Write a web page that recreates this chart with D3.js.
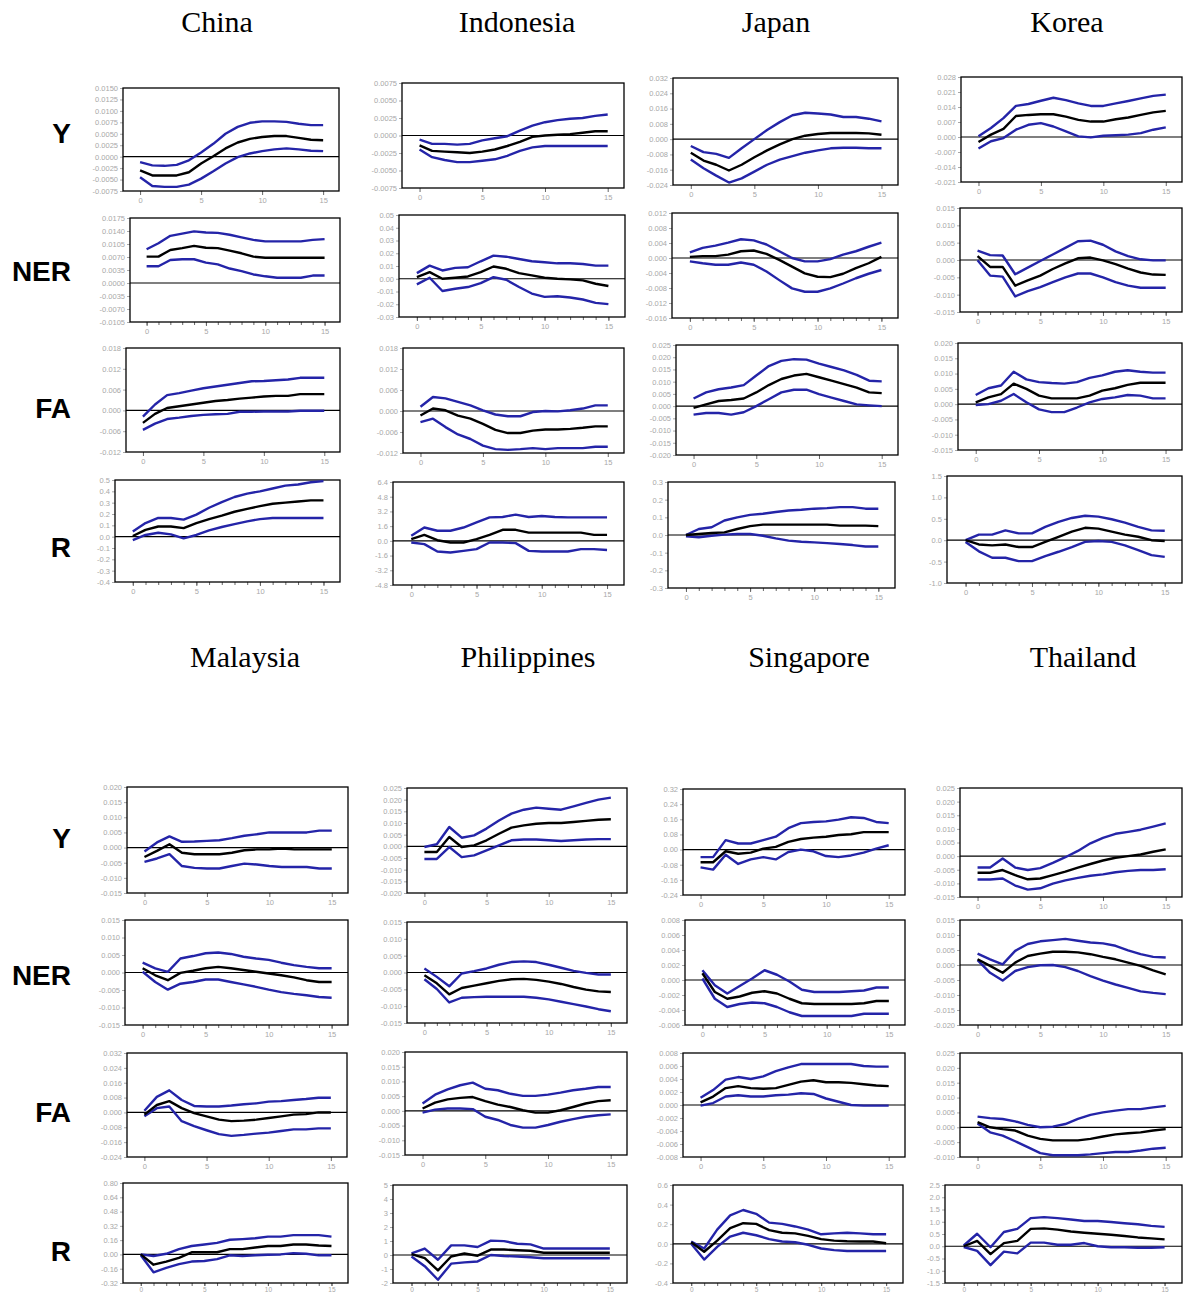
<!DOCTYPE html>
<html><head><meta charset="utf-8">
<script src="https://cdn.jsdelivr.net/npm/d3@7/dist/d3.min.js"></script>
<style>body{margin:0;background:#fff}svg{display:block}</style>
</head><body><svg id="c" width="1184" height="1297"></svg>
<script>
// ---------- DATA ----------
const countries = ["China","Indonesia","Japan","Korea","Malaysia","Philippines","Singapore","Thailand"];
const variables = ["Y","NER","FA","R"];
const horizons = [0,1,2,3,4,5,6,7,8,9,10,11,12,13,14,15];
const xTickValues = [0,5,10,15];
const xTickLabels = ["0","5","10","15"];

const China = {
  Y:{lo:[-0.0045,-0.0064,-0.0066,-0.0066,-0.0061,-0.0048,-0.0032,-0.0015,-0.0001,0.0007,0.0012,0.0016,0.0018,0.0016,0.0013,0.0012],
     mid:[-0.0030,-0.0041,-0.0041,-0.0041,-0.0034,-0.0015,0.0001,0.0018,0.0031,0.0039,0.0043,0.0045,0.0045,0.0041,0.0037,0.0036],
     hi:[-0.0012,-0.0019,-0.0020,-0.0018,-0.0008,0.0009,0.0028,0.0050,0.0065,0.0074,0.0077,0.0077,0.0076,0.0072,0.0069,0.0069]},
  NER:{lo:[0.0045,0.0045,0.0062,0.0064,0.0064,0.0055,0.0050,0.0039,0.0032,0.0023,0.0018,0.0014,0.0014,0.0014,0.0020,0.0020],
     mid:[0.0071,0.0071,0.0089,0.0094,0.0100,0.0095,0.0094,0.0087,0.0080,0.0071,0.0068,0.0068,0.0068,0.0068,0.0068,0.0068],
     hi:[0.0091,0.0107,0.0127,0.0133,0.0139,0.0136,0.0135,0.0130,0.0123,0.0116,0.0112,0.0112,0.0112,0.0112,0.0116,0.0118]},
  FA:{lo:[-0.0056,-0.0038,-0.0025,-0.0021,-0.0016,-0.0013,-0.0011,-0.0010,-0.0004,-0.0004,-0.0003,-0.0003,-0.0003,-0.0001,-0.0001,-0.0001],
     mid:[-0.0036,-0.0010,0.0007,0.0012,0.0017,0.0022,0.0027,0.0030,0.0034,0.0037,0.0040,0.0042,0.0042,0.0047,0.0047,0.0047],
     hi:[-0.0018,0.0017,0.0044,0.0050,0.0057,0.0064,0.0069,0.0074,0.0079,0.0084,0.0085,0.0087,0.0089,0.0094,0.0094,0.0094]},
  R:{lo:[-0.03,0.015,0.035,0.02,-0.015,0.015,0.055,0.085,0.11,0.135,0.155,0.165,0.165,0.165,0.165,0.165],
     mid:[0.006,0.06,0.09,0.09,0.075,0.12,0.155,0.185,0.22,0.245,0.27,0.29,0.30,0.31,0.32,0.32],
     hi:[0.045,0.12,0.165,0.165,0.15,0.195,0.255,0.305,0.35,0.38,0.40,0.425,0.45,0.46,0.48,0.49]}
};
const Indonesia = {
  Y:{lo:[-0.0020,-0.0031,-0.0035,-0.0038,-0.0038,-0.0036,-0.0034,-0.0029,-0.0022,-0.0017,-0.0015,-0.0015,-0.0015,-0.0015,-0.0015,-0.0015],
     mid:[-0.0014,-0.0022,-0.0023,-0.0024,-0.0025,-0.0023,-0.0020,-0.0015,-0.0009,-0.0002,0.0000,0.0001,0.0002,0.0004,0.0006,0.0006],
     hi:[-0.0006,-0.0012,-0.0012,-0.0013,-0.0012,-0.0007,-0.0004,-0.0001,0.0007,0.0014,0.0019,0.0022,0.0024,0.0025,0.0028,0.0030]},
  NER:{lo:[-0.0044,0.0008,-0.0096,-0.0078,-0.0065,-0.0034,0.0013,-0.0008,-0.0065,-0.0116,-0.0142,-0.0137,-0.0147,-0.0163,-0.0189,-0.0199],
     mid:[0.0013,0.0052,0.0000,0.0008,0.0018,0.0052,0.0096,0.0078,0.0044,0.0026,0.0008,0.0000,-0.0005,-0.0013,-0.0039,-0.0057],
     hi:[0.0044,0.0103,0.0065,0.0085,0.0090,0.0137,0.0181,0.0173,0.0155,0.0137,0.0129,0.0121,0.0121,0.0116,0.0103,0.0103]},
  FA:{lo:[-0.0032,-0.0022,-0.0046,-0.0067,-0.0080,-0.0099,-0.0109,-0.0111,-0.0109,-0.0106,-0.0109,-0.0106,-0.0106,-0.0106,-0.0102,-0.0102],
     mid:[-0.0013,0.0007,0.0002,-0.0013,-0.0022,-0.0037,-0.0054,-0.0063,-0.0063,-0.0056,-0.0053,-0.0053,-0.0051,-0.0048,-0.0044,-0.0044],
     hi:[0.0012,0.0040,0.0036,0.0026,0.0016,0.0002,-0.0010,-0.0015,-0.0015,-0.0003,0.0000,-0.0001,0.0002,0.0007,0.0016,0.0016]},
  R:{lo:[-0.18,-0.36,-1.16,-1.27,-1.09,-0.90,-0.18,-0.18,-0.25,-1.09,-1.16,-1.16,-1.16,-0.90,-0.90,-1.00],
     mid:[0.18,0.65,0.07,-0.18,-0.18,0.18,0.65,1.20,1.20,0.90,0.90,0.90,0.90,0.90,0.65,0.65],
     hi:[0.55,1.45,1.10,1.10,1.45,2.00,2.55,2.60,2.85,2.60,2.70,2.60,2.55,2.55,2.55,2.55]}
};
const Japan = {
  Y:{lo:[-0.0107,-0.0152,-0.0191,-0.0227,-0.0205,-0.0170,-0.0134,-0.0107,-0.0089,-0.0071,-0.0059,-0.0048,-0.0045,-0.0045,-0.0048,-0.0048],
     mid:[-0.0071,-0.0112,-0.0134,-0.0164,-0.0134,-0.0095,-0.0059,-0.0027,0.0000,0.0018,0.0027,0.0032,0.0032,0.0032,0.0030,0.0023],
     hi:[-0.0036,-0.0068,-0.0077,-0.0098,-0.0048,0.0000,0.0048,0.0089,0.0125,0.0138,0.0134,0.0129,0.0116,0.0116,0.0107,0.0093]},
  NER:{lo:[-0.0009,-0.0014,-0.0018,-0.0018,-0.0012,-0.0018,-0.0036,-0.0059,-0.0081,-0.0090,-0.0090,-0.0081,-0.0068,-0.0054,-0.0042,-0.0032],
     mid:[0.0003,0.0005,0.0005,0.0009,0.0018,0.0020,0.0011,-0.0005,-0.0023,-0.0041,-0.0050,-0.0051,-0.0042,-0.0027,-0.0014,0.0003],
     hi:[0.0015,0.0027,0.0033,0.0041,0.0050,0.0047,0.0036,0.0018,0.0000,-0.0009,-0.0009,-0.0003,0.0009,0.0018,0.0030,0.0041]},
  FA:{lo:[-0.0035,-0.0028,-0.0028,-0.0035,-0.0025,0.0000,0.0028,0.0056,0.0067,0.0067,0.0049,0.0035,0.0021,0.0007,0.0003,0.0000],
     mid:[-0.0007,0.0007,0.0021,0.0025,0.0031,0.0056,0.0086,0.0111,0.0125,0.0132,0.0118,0.0104,0.0090,0.0076,0.0056,0.0053],
     hi:[0.0031,0.0056,0.0069,0.0076,0.0086,0.0125,0.0164,0.0185,0.0192,0.0190,0.0174,0.0160,0.0146,0.0128,0.0104,0.0101]},
  R:{lo:[-0.008,-0.013,-0.004,0.002,0.006,0.006,-0.004,-0.019,-0.032,-0.038,-0.042,-0.046,-0.051,-0.057,-0.065,-0.065],
     mid:[0.000,0.006,0.011,0.015,0.034,0.050,0.059,0.059,0.059,0.059,0.059,0.059,0.053,0.053,0.053,0.050],
     hi:[0.000,0.034,0.044,0.082,0.100,0.114,0.120,0.130,0.139,0.143,0.149,0.152,0.158,0.158,0.149,0.149]}
};
const Korea = {
  Y:{lo:[-0.0054,-0.0020,-0.0005,0.0034,0.0057,0.0065,0.0049,0.0026,0.0003,-0.0002,0.0006,0.0008,0.0011,0.0018,0.0034,0.0045],
     mid:[-0.0023,0.0011,0.0038,0.0098,0.0103,0.0106,0.0106,0.0095,0.0080,0.0072,0.0072,0.0083,0.0091,0.0103,0.0115,0.0122],
     hi:[0.0003,0.0042,0.0088,0.0145,0.0154,0.0169,0.0183,0.0172,0.0157,0.0145,0.0145,0.0157,0.0168,0.0180,0.0192,0.0198]},
  NER:{lo:[-0.0001,-0.0045,-0.0048,-0.0105,-0.0090,-0.0078,-0.0064,-0.0050,-0.0039,-0.0039,-0.0050,-0.0064,-0.0074,-0.0080,-0.0080,-0.0080],
     mid:[0.0011,-0.0020,-0.0020,-0.0074,-0.0059,-0.0045,-0.0026,-0.0010,0.0005,0.0007,-0.0001,-0.0012,-0.0025,-0.0036,-0.0042,-0.0043],
     hi:[0.0027,0.0014,0.0013,-0.0041,-0.0022,-0.0003,0.0016,0.0035,0.0054,0.0056,0.0044,0.0025,0.0011,0.0002,-0.0001,-0.0001]},
  FA:{lo:[-0.0003,0.0000,0.0011,0.0033,0.0006,-0.0017,-0.0026,-0.0026,-0.0011,0.0006,0.0017,0.0022,0.0030,0.0028,0.0019,0.0019],
     mid:[0.0006,0.0022,0.0033,0.0067,0.0050,0.0028,0.0019,0.0019,0.0019,0.0028,0.0044,0.0052,0.0063,0.0070,0.0070,0.0070],
     hi:[0.0030,0.0052,0.0061,0.0106,0.0081,0.0072,0.0069,0.0067,0.0072,0.0086,0.0094,0.0106,0.0111,0.0106,0.0103,0.0103]},
  R:{lo:[-0.04,-0.26,-0.41,-0.41,-0.49,-0.49,-0.37,-0.27,-0.16,-0.04,-0.02,-0.04,-0.12,-0.23,-0.35,-0.39],
     mid:[0.00,-0.10,-0.12,-0.10,-0.16,-0.16,-0.04,0.08,0.20,0.29,0.27,0.20,0.13,0.08,0.00,-0.02],
     hi:[0.00,0.13,0.13,0.23,0.16,0.16,0.31,0.43,0.52,0.57,0.55,0.49,0.41,0.31,0.23,0.22]}
};
const Malaysia = {
  Y:{lo:[-0.0047,-0.0036,-0.0022,-0.0061,-0.0067,-0.0069,-0.0069,-0.0061,-0.0053,-0.0056,-0.0061,-0.0064,-0.0064,-0.0064,-0.0069,-0.0069],
     mid:[-0.0031,-0.0011,0.0011,-0.0017,-0.0022,-0.0022,-0.0022,-0.0017,-0.0009,-0.0006,-0.0006,-0.0003,-0.0006,-0.0006,-0.0006,-0.0006],
     hi:[-0.0013,0.0017,0.0037,0.0019,0.0020,0.0022,0.0024,0.0031,0.0039,0.0044,0.0050,0.0050,0.0050,0.0050,0.0056,0.0056]},
  NER:{lo:[0.0002,-0.0027,-0.0049,-0.0032,-0.0027,-0.0020,-0.0020,-0.0027,-0.0034,-0.0041,-0.0049,-0.0056,-0.0061,-0.0065,-0.0070,-0.0072],
     mid:[0.0012,-0.0008,-0.0022,-0.0001,0.0005,0.0012,0.0016,0.0012,0.0007,0.0002,-0.0003,-0.0008,-0.0014,-0.0022,-0.0027,-0.0027],
     hi:[0.0028,0.0012,0.0002,0.0040,0.0047,0.0055,0.0057,0.0053,0.0045,0.0040,0.0036,0.0028,0.0021,0.0016,0.0012,0.0012]},
  FA:{lo:[-0.0021,0.0023,0.0032,-0.0047,-0.0074,-0.0096,-0.0117,-0.0126,-0.0121,-0.0114,-0.0109,-0.0100,-0.0091,-0.0091,-0.0086,-0.0086],
     mid:[-0.0012,0.0040,0.0061,0.0023,-0.0004,-0.0021,-0.0039,-0.0047,-0.0044,-0.0039,-0.0030,-0.0021,-0.0012,-0.0009,0.0000,0.0000],
     hi:[0.0009,0.0084,0.0119,0.0067,0.0035,0.0032,0.0032,0.0037,0.0044,0.0049,0.0058,0.0061,0.0067,0.0072,0.0079,0.0079]},
  R:{lo:[-0.010,-0.200,-0.150,-0.108,-0.080,-0.073,-0.052,-0.010,-0.017,-0.010,-0.003,0.000,0.014,0.007,-0.010,-0.010],
     mid:[0.000,-0.115,-0.080,-0.038,0.024,0.024,0.024,0.059,0.059,0.077,0.094,0.094,0.111,0.111,0.100,0.094],
     hi:[0.000,-0.017,0.007,0.059,0.094,0.111,0.129,0.164,0.171,0.181,0.199,0.199,0.216,0.216,0.216,0.199]}
};
const Philippines = {
  Y:{lo:[-0.0054,-0.0054,-0.0003,-0.0046,-0.0039,-0.0017,0.0004,0.0026,0.0029,0.0029,0.0026,0.0023,0.0026,0.0029,0.0031,0.0031],
     mid:[-0.0024,-0.0024,0.0040,-0.0003,0.0004,0.0026,0.0054,0.0080,0.0090,0.0097,0.0100,0.0100,0.0104,0.0109,0.0114,0.0116],
     hi:[-0.0003,0.0009,0.0083,0.0037,0.0047,0.0076,0.0111,0.0140,0.0157,0.0166,0.0161,0.0157,0.0171,0.0186,0.0200,0.0209]},
  NER:{lo:[-0.0020,-0.0049,-0.0089,-0.0075,-0.0073,-0.0072,-0.0072,-0.0072,-0.0072,-0.0075,-0.0080,-0.0087,-0.0094,-0.0101,-0.0109,-0.0115],
     mid:[-0.0008,-0.0032,-0.0065,-0.0046,-0.0039,-0.0032,-0.0025,-0.0020,-0.0019,-0.0022,-0.0027,-0.0034,-0.0043,-0.0051,-0.0056,-0.0058],
     hi:[0.0012,-0.0013,-0.0041,-0.0003,0.0004,0.0012,0.0023,0.0031,0.0033,0.0031,0.0023,0.0014,0.0005,-0.0001,-0.0006,-0.0006]},
  FA:{lo:[-0.0006,0.0004,0.0008,0.0008,0.0006,-0.0020,-0.0031,-0.0048,-0.0057,-0.0057,-0.0048,-0.0037,-0.0028,-0.0020,-0.0015,-0.0012],
     mid:[0.0008,0.0028,0.0039,0.0044,0.0047,0.0033,0.0021,0.0013,0.0002,-0.0006,-0.0006,0.0002,0.0013,0.0025,0.0033,0.0036],
     hi:[0.0025,0.0055,0.0073,0.0087,0.0096,0.0075,0.0070,0.0058,0.0051,0.0051,0.0055,0.0062,0.0070,0.0075,0.0081,0.0081]},
  R:{lo:[-0.11,-0.80,-1.77,-0.62,-0.53,-0.46,0.00,-0.07,-0.11,-0.16,-0.23,-0.23,-0.23,-0.23,-0.23,-0.23],
     mid:[0.07,-0.23,-1.10,-0.11,0.11,-0.05,0.39,0.39,0.34,0.30,0.16,0.16,0.16,0.16,0.16,0.16],
     hi:[0.11,0.46,-0.34,0.69,0.69,0.57,1.03,0.99,0.80,0.76,0.46,0.46,0.46,0.46,0.46,0.46]}
};
const Singapore = {
  Y:{lo:[-0.094,-0.106,-0.027,-0.076,-0.052,-0.040,-0.052,-0.013,0.000,-0.009,-0.034,-0.040,-0.031,-0.016,0.005,0.023],
     mid:[-0.067,-0.067,-0.009,-0.022,-0.016,0.005,0.014,0.041,0.056,0.063,0.068,0.077,0.081,0.092,0.092,0.092],
     hi:[-0.040,-0.040,0.050,0.032,0.032,0.050,0.068,0.113,0.140,0.146,0.149,0.158,0.171,0.167,0.146,0.140]},
  NER:{lo:[0.0002,-0.0025,-0.0036,-0.0032,-0.0030,-0.0031,-0.0036,-0.0043,-0.0048,-0.0048,-0.0048,-0.0048,-0.0048,-0.0045,-0.0045,-0.0045],
     mid:[0.0009,-0.0016,-0.0025,-0.0022,-0.0017,-0.0015,-0.0018,-0.0025,-0.0031,-0.0032,-0.0032,-0.0032,-0.0032,-0.0031,-0.0028,-0.0028],
     hi:[0.0013,-0.0007,-0.0018,-0.0008,0.0002,0.0013,0.0007,-0.0002,-0.0013,-0.0016,-0.0016,-0.0016,-0.0015,-0.0014,-0.0010,-0.0010]},
  FA:{lo:[-0.0001,0.0003,0.0013,0.0015,0.0013,0.0013,0.0015,0.0016,0.0018,0.0017,0.0010,0.0005,0.0000,-0.0001,-0.0001,-0.0001],
     mid:[0.0004,0.0013,0.0026,0.0029,0.0026,0.0025,0.0026,0.0031,0.0036,0.0038,0.0035,0.0035,0.0034,0.0032,0.0030,0.0029],
     hi:[0.0011,0.0023,0.0039,0.0043,0.0040,0.0044,0.0052,0.0058,0.0063,0.0063,0.0063,0.0063,0.0063,0.0060,0.0059,0.0059]},
  R:{lo:[0.000,-0.161,-0.032,0.074,0.113,0.087,0.048,0.023,0.016,-0.010,-0.048,-0.065,-0.074,-0.074,-0.074,-0.074],
     mid:[0.016,-0.081,0.032,0.161,0.210,0.203,0.139,0.113,0.106,0.081,0.048,0.032,0.026,0.023,0.023,0.006],
     hi:[0.023,-0.048,0.145,0.290,0.345,0.306,0.216,0.203,0.177,0.145,0.097,0.106,0.113,0.106,0.097,0.097]}
};
const Thailand = {
  Y:{lo:[-0.0086,-0.0086,-0.0082,-0.0108,-0.0123,-0.0118,-0.0101,-0.0089,-0.0080,-0.0072,-0.0067,-0.0059,-0.0054,-0.0051,-0.0051,-0.0048],
     mid:[-0.0061,-0.0061,-0.0051,-0.0070,-0.0085,-0.0082,-0.0070,-0.0057,-0.0042,-0.0029,-0.0016,-0.0006,0.0000,0.0006,0.0016,0.0025],
     hi:[-0.0042,-0.0042,-0.0009,-0.0042,-0.0051,-0.0044,-0.0025,-0.0004,0.0019,0.0047,0.0067,0.0082,0.0089,0.0097,0.0108,0.0120]},
  NER:{lo:[0.0016,-0.0026,-0.0052,-0.0020,-0.0007,-0.0001,0.0000,-0.0007,-0.0020,-0.0037,-0.0052,-0.0065,-0.0076,-0.0088,-0.0093,-0.0097],
     mid:[0.0019,-0.0003,-0.0026,0.0008,0.0030,0.0038,0.0044,0.0044,0.0042,0.0036,0.0027,0.0019,0.0008,-0.0003,-0.0018,-0.0031],
     hi:[0.0038,0.0019,0.0002,0.0047,0.0070,0.0079,0.0083,0.0087,0.0081,0.0075,0.0072,0.0064,0.0049,0.0036,0.0027,0.0025]},
  FA:{lo:[0.0013,-0.0017,-0.0028,-0.0047,-0.0067,-0.0087,-0.0094,-0.0094,-0.0094,-0.0091,-0.0087,-0.0083,-0.0083,-0.0078,-0.0072,-0.0069],
     mid:[0.0017,0.0000,-0.0006,-0.0011,-0.0028,-0.0039,-0.0044,-0.0044,-0.0044,-0.0039,-0.0031,-0.0024,-0.0020,-0.0017,-0.0011,-0.0006],
     hi:[0.0036,0.0031,0.0028,0.0020,0.0008,0.0000,0.0002,0.0011,0.0028,0.0042,0.0050,0.0056,0.0061,0.0061,0.0067,0.0072]},
  R:{lo:[-0.03,-0.19,-0.77,-0.22,-0.29,0.15,0.15,0.06,0.06,0.13,0.00,-0.04,-0.04,-0.06,-0.06,-0.04],
     mid:[0.00,0.22,-0.32,0.13,0.22,0.71,0.73,0.68,0.60,0.55,0.51,0.47,0.42,0.36,0.32,0.28],
     hi:[0.03,0.51,-0.04,0.58,0.71,1.15,1.19,1.15,1.09,1.03,1.03,0.99,0.94,0.90,0.83,0.79]}
};

// y-axis tick labels (top to bottom) per country / variable
const ChinaTicks = {
  Y:["0.0150","0.0125","0.0100","0.0075","0.0050","0.0025","0.0000","-0.0025","-0.0050","-0.0075"],
  NER:["0.0175","0.0140","0.0105","0.0070","0.0035","0.0000","-0.0035","-0.0070","-0.0105"],
  FA:["0.018","0.012","0.006","0.000","-0.006","-0.012"],
  R:["0.5","0.4","0.3","0.2","0.1","0.0","-0.1","-0.2","-0.3","-0.4"]};
const IndonesiaTicks = {
  Y:["0.0075","0.0050","0.0025","0.0000","-0.0025","-0.0050","-0.0075"],
  NER:["0.05","0.04","0.03","0.02","0.01","0.00","-0.01","-0.02","-0.03"],
  FA:["0.018","0.012","0.006","0.000","-0.006","-0.012"],
  R:["6.4","4.8","3.2","1.6","0.0","-1.6","-3.2","-4.8"]};
const JapanTicks = {
  Y:["0.032","0.024","0.016","0.008","0.000","-0.008","-0.016","-0.024"],
  NER:["0.012","0.008","0.004","0.000","-0.004","-0.008","-0.012","-0.016"],
  FA:["0.025","0.020","0.015","0.010","0.005","0.000","-0.005","-0.010","-0.015","-0.020"],
  R:["0.3","0.2","0.1","0.0","-0.1","-0.2","-0.3"]};
const KoreaTicks = {
  Y:["0.028","0.021","0.014","0.007","0.000","-0.007","-0.014","-0.021"],
  NER:["0.015","0.010","0.005","0.000","-0.005","-0.010","-0.015"],
  FA:["0.020","0.015","0.010","0.005","0.000","-0.005","-0.010","-0.015"],
  R:["1.5","1.0","0.5","0.0","-0.5","-1.0"]};
const MalaysiaTicks = {
  Y:["0.020","0.015","0.010","0.005","0.000","-0.005","-0.010","-0.015"],
  NER:["0.015","0.010","0.005","0.000","-0.005","-0.010","-0.015"],
  FA:["0.032","0.024","0.016","0.008","0.000","-0.008","-0.016","-0.024"],
  R:["0.80","0.64","0.48","0.32","0.16","0.00","-0.16","-0.32"]};
const PhilippinesTicks = {
  Y:["0.025","0.020","0.015","0.010","0.005","0.000","-0.005","-0.010","-0.015","-0.020"],
  NER:["0.015","0.010","0.005","0.000","-0.005","-0.010","-0.015"],
  FA:["0.020","0.015","0.010","0.005","0.000","-0.005","-0.010","-0.015"],
  R:["5","4","3","2","1","0","-1","-2"]};
const SingaporeTicks = {
  Y:["0.32","0.24","0.16","0.08","0.00","-0.08","-0.16","-0.24"],
  NER:["0.008","0.006","0.004","0.002","0.000","-0.002","-0.004","-0.006"],
  FA:["0.008","0.006","0.004","0.002","0.000","-0.002","-0.004","-0.006","-0.008"],
  R:["0.6","0.4","0.2","0.0","-0.2","-0.4"]};
const ThailandTicks = {
  Y:["0.025","0.020","0.015","0.010","0.005","0.000","-0.005","-0.010","-0.015"],
  NER:["0.015","0.010","0.005","0.000","-0.005","-0.010","-0.015","-0.020"],
  FA:["0.025","0.020","0.015","0.010","0.005","0.000","-0.005","-0.010"],
  R:["2.5","2.0","1.5","1.0","0.5","0.0","-0.5","-1.0","-1.5"]};

const dataBy = {China,Indonesia,Japan,Korea,Malaysia,Philippines,Singapore,Thailand};
const ticksBy = {China:ChinaTicks,Indonesia:IndonesiaTicks,Japan:JapanTicks,Korea:KoreaTicks,
  Malaysia:MalaysiaTicks,Philippines:PhilippinesTicks,Singapore:SingaporeTicks,Thailand:ThailandTicks};

// ---------- LAYOUT ----------
const frames = {
  China:{Y:[123,88,339,191],NER:[130,218,340,322],FA:[126,348,340,452],R:[115,480,340,582]},
  Indonesia:{Y:[402,83,624,188],NER:[399,215,625,317],FA:[403,348,624,453],R:[393,482,624,585]},
  Japan:{Y:[673,78,898,185],NER:[672,213,898,318],FA:[676,345,898,455],R:[668,482,895,588]},
  Korea:{Y:[961,77,1182,182],NER:[960,208,1182,312],FA:[958,343,1182,450],R:[947,476,1182,583]},
  Malaysia:{Y:[127,787,348,893],NER:[125,920,348,1025],FA:[127,1053,347,1157],R:[123,1183,348,1283]},
  Philippines:{Y:[407,788,627,893],NER:[407,922,627,1023],FA:[405,1052,627,1155],R:[393,1185,627,1283]},
  Singapore:{Y:[683,789,905,895],NER:[685,920,905,1025],FA:[683,1053,905,1157],R:[673,1185,903,1283]},
  Thailand:{Y:[960,788,1182,897],NER:[960,920,1182,1025],FA:[960,1053,1182,1157],R:[945,1185,1182,1283]}
};
const titlePos = {China:[217,32],Indonesia:[517,32],Japan:[776,32],Korea:[1067,32],
  Malaysia:[245,667],Philippines:[528,667],Singapore:[809,667],Thailand:[1083,667]};
const rowBaselines = [[143,281,418,557],[848,985,1122,1261]];
const BLUE = "#2424a8";
const GRAY = "#a8a8a8";

const svg = d3.select("#c");
svg.append("rect").attr("width",1184).attr("height",1297).attr("fill","#fff");

// titles
countries.forEach(c=>{
  svg.append("text").attr("x",titlePos[c][0]).attr("y",titlePos[c][1])
    .attr("text-anchor","middle").attr("font-family","'Liberation Serif','Times New Roman',serif")
    .attr("font-size",30).attr("fill","#000").text(c);
});
// row labels
rowBaselines.forEach(block=>{
  variables.forEach((v,i)=>{
    svg.append("text").attr("x",71).attr("y",block[i]).attr("text-anchor","end")
      .attr("font-family","'Liberation Sans',Arial,sans-serif").attr("font-weight","bold")
      .attr("font-size",28).attr("fill","#000").text(v);
  });
});

// panels
countries.forEach((c,ci)=>{
  variables.forEach(v=>{
    const [x0,y0,x1,y1] = frames[c][v];
    const lastRow = ci>=4 && v==="R";
    const labels = ticksBy[c][v];
    const vals = labels.map(Number);
    const d = dataBy[c][v];
    const x = d3.scaleLinear().domain([-1.4,16.3]).range([x0,x1]);
    const y = d3.scaleLinear().domain([d3.min(vals),d3.max(vals)]).range([y1,y0]);
    const g = svg.append("g");

    // y axis
    const ya = g.append("g").attr("transform",`translate(${x0},0)`)
      .call(d3.axisLeft(y).tickValues(vals).tickFormat((t,i)=>labels[i]).tickSize(3).tickPadding(2));
    ya.select(".domain").remove();
    ya.selectAll("line").attr("stroke",GRAY);
    ya.selectAll("text").attr("fill",GRAY).attr("font-size",7.5).attr("font-family","'Liberation Sans',Arial,sans-serif");

    // x axis
    if (v==="NER"||v==="R"){
      const xm = g.append("g").attr("transform",`translate(0,${y1})`)
        .call(d3.axisBottom(x).tickValues(horizons).tickFormat("").tickSize(3));
      xm.select(".domain").remove();
      xm.selectAll("line").attr("stroke","#666");
    }
    const xa = g.append("g").attr("transform",`translate(0,${y1})`)
      .call(d3.axisBottom(x).tickValues(xTickValues).tickFormat((t,i)=>xTickLabels[i])
        .tickSize(lastRow?3:4).tickPadding(lastRow?1:3));
    xa.select(".domain").remove();
    xa.selectAll("line").attr("stroke","#666");
    xa.selectAll("text").attr("fill",GRAY).attr("font-size",lastRow?6.5:7.5).attr("font-family","'Liberation Sans',Arial,sans-serif");

    // frame
    g.append("rect").attr("x",x0).attr("y",y0).attr("width",x1-x0).attr("height",y1-y0)
      .attr("fill","none").attr("stroke","#000").attr("stroke-width",1.3);
    // zero line
    g.append("line").attr("x1",x0).attr("x2",x1).attr("y1",y(0)).attr("y2",y(0))
      .attr("stroke","#000").attr("stroke-width",1.2);

    const line = d3.line().x((val,i)=>x(horizons[i])).y(val=>y(val));
    [["lo",BLUE],["hi",BLUE],["mid","#000"]].forEach(([k,col])=>{
      g.append("path").attr("d",line(d[k])).attr("fill","none").attr("stroke",col)
        .attr("stroke-width",2.4).attr("stroke-linejoin","round");
    });
  });
});
</script></body></html>
